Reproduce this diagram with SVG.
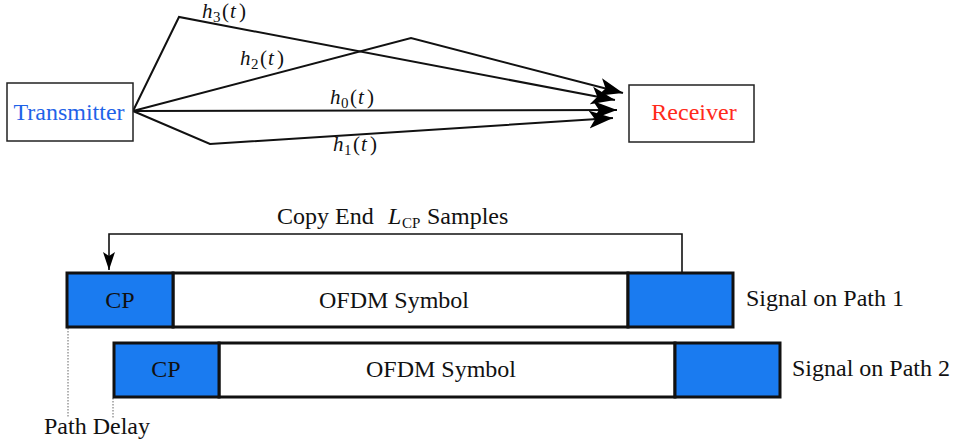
<svg xmlns="http://www.w3.org/2000/svg" width="957" height="443" viewBox="0 0 957 443">
  <style>
    .box { fill: #ffffff; stroke: #222; stroke-width: 1.5; }
    .seg { fill: #ffffff; stroke: #111; stroke-width: 3; }
    .cp { fill: #1a7bf0; stroke: #111; stroke-width: 3; }
    .lbl { font-family: "Liberation Serif", "Times New Roman", serif; font-size: 24px; fill: #111; }
    .math { font-family: "Liberation Serif", "Times New Roman", serif; font-size: 21px; fill: #111; }
    .it { font-style: italic; }
    .sub { font-size: 15px; }
    .wire { fill: none; stroke: #111; stroke-width: 2; stroke-linejoin: miter; }
    .thin { fill: none; stroke: #111; stroke-width: 1.6; }
    .dot { fill: none; stroke: #666; stroke-width: 1; stroke-dasharray: 1.5 1.5; }
  </style>
  <defs>
    <marker id="stealth" markerUnits="userSpaceOnUse" markerWidth="28" markerHeight="20" refX="24" refY="9" orient="auto">
      <path d="M24,9 L0,0 L6,9 L0,18 Z" fill="#000"/>
    </marker>
    <marker id="stealthSmall" markerUnits="userSpaceOnUse" markerWidth="22" markerHeight="14" refX="18" refY="6" orient="auto">
      <path d="M18,6 L0,0 L4,6 L0,12 Z" fill="#000"/>
    </marker>
  </defs>

  <!-- channel paths -->
  <g id="connectors">
    <polyline class="wire" points="133,111 179,17 615,100" marker-end="url(#stealth)"/>
    <polyline class="wire" points="133,111 411,38 623,93" marker-end="url(#stealth)"/>
    <polyline class="wire" points="133,111 617,110" marker-end="url(#stealth)"/>
    <polyline class="wire" points="133,111 210,144 613,118" marker-end="url(#stealth)"/>
    <!-- copy of the tail samples back to the CP -->
    <polyline class="thin" points="682,273 682,234 109,234 109,270" marker-end="url(#stealthSmall)"/>
    <line class="dot" x1="68" y1="328" x2="68" y2="418"/>
    <line class="dot" x1="113" y1="398" x2="113" y2="418"/>
  </g>

  <!-- path gains -->
  <g id="labels">
    <text class="math" y="18"><tspan class="it" x="202">h</tspan><tspan class="sub" x="213" y="22">3</tspan><tspan x="222" y="18">(</tspan><tspan class="it" x="230">t</tspan><tspan x="239">)</tspan></text>
    <text class="math" y="65"><tspan class="it" x="240">h</tspan><tspan class="sub" x="251" y="69">2</tspan><tspan x="260" y="65">(</tspan><tspan class="it" x="268">t</tspan><tspan x="277">)</tspan></text>
    <text class="math" y="104"><tspan class="it" x="330">h</tspan><tspan class="sub" x="341" y="108">0</tspan><tspan x="350" y="104">(</tspan><tspan class="it" x="358">t</tspan><tspan x="367">)</tspan></text>
    <text class="math" y="151"><tspan class="it" x="333">h</tspan><tspan class="sub" x="344" y="155">1</tspan><tspan x="353" y="151">(</tspan><tspan class="it" x="361">t</tspan><tspan x="370">)</tspan></text>
    <text class="lbl" y="224"><tspan x="277">Copy End</tspan><tspan class="it" x="388">L</tspan><tspan class="sub" x="402" y="228" font-size="17px">CP</tspan><tspan x="427" y="224">Samples</tspan></text>
  </g>

  <g id="transmitter">
    <rect class="box" x="7" y="83" width="126" height="58"/>
    <text class="lbl" x="69" y="120" text-anchor="middle" style="fill:#1f63e8">Transmitter</text>
  </g>

  <g id="receiver">
    <rect class="box" x="629" y="85" width="125" height="57"/>
    <text class="lbl" x="694" y="120" text-anchor="middle" style="fill:#ff2a1a">Receiver</text>
  </g>

  <g id="path1">
    <rect class="seg" x="173" y="273" width="455" height="54"/>
    <rect class="cp" x="67" y="273" width="106" height="54"/>
    <rect class="cp" x="628" y="273" width="105" height="54"/>
    <text class="lbl" x="120" y="308" text-anchor="middle">CP</text>
    <text class="lbl" x="394" y="308" text-anchor="middle">OFDM Symbol</text>
    <text class="lbl" x="746" y="306">Signal on Path 1</text>
  </g>

  <g id="path2">
    <rect class="seg" x="219" y="343" width="456" height="54"/>
    <rect class="cp" x="114" y="343" width="105" height="54"/>
    <rect class="cp" x="675" y="343" width="105" height="54"/>
    <text class="lbl" x="166" y="377" text-anchor="middle">CP</text>
    <text class="lbl" x="441" y="377" text-anchor="middle">OFDM Symbol</text>
    <text class="lbl" x="792" y="376">Signal on Path 2</text>
  </g>

  <g id="delay">
    <text class="lbl" x="44" y="434">Path Delay</text>
  </g>
</svg>
